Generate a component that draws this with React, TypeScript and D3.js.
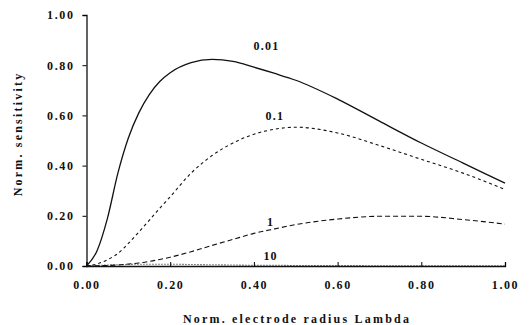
import React, { useEffect, useRef } from 'react'
import * as d3 from 'd3'

// shared x grid (normalised electrode radius)
const lambda = [0, 0.025, 0.05, 0.075, 0.1, 0.125, 0.15, 0.175, 0.2, 0.25, 0.3, 0.35, 0.4, 0.45, 0.5, 0.6, 0.7, 0.8, 0.9, 1.0]

const s001 = [0, 0.06, 0.19, 0.37, 0.51, 0.61, 0.683, 0.735, 0.77, 0.81, 0.823, 0.815, 0.792, 0.767, 0.74, 0.665, 0.577, 0.49, 0.41, 0.33]
const s01 = [0, 0.008, 0.025, 0.05, 0.09, 0.135, 0.182, 0.23, 0.276, 0.37, 0.44, 0.49, 0.525, 0.545, 0.553, 0.53, 0.48, 0.425, 0.37, 0.305]
const s1 = [0, 0.001, 0.002, 0.004, 0.008, 0.012, 0.018, 0.026, 0.035, 0.057, 0.082, 0.106, 0.13, 0.148, 0.165, 0.187, 0.198, 0.198, 0.185, 0.167]
const s10 = [0, 0.002, 0.004, 0.005, 0.006, 0.007, 0.007, 0.007, 0.007, 0.006, 0.005, 0.004, 0.003, 0.003, 0.002, 0.002, 0.001, 0.001, 0.001, 0.001]

const seriesNames = ['0.01', '0.1', '1', '10']
const seriesValues = [s001, s01, s1, s10]
const dashes = ['none', '3,3', '5,3', '1,2']
// where each curve label sits, in data units
const labelPos = [
  [0.43, 0.86],
  [0.45, 0.58],
  [0.44, 0.16],
  [0.44, 0.025],
]

const xTicks = [0, 0.2, 0.4, 0.6, 0.8, 1.0]
const yTicks = [0, 0.2, 0.4, 0.6, 0.8, 1.0]

const W = 529
const H = 325
const margin = { left: 86.5, right: 24, top: 15, bottom: 59 }
const FONT = '"Liberation Serif", "Times New Roman", serif'

const App = () => {
  const svgRef = useRef(null)

  useEffect(() => {
    const svg = d3.select(svgRef.current)
    svg.selectAll('*').remove()

    const x = d3.scaleLinear().domain([0, 1]).range([margin.left, W - margin.right])
    const y = d3.scaleLinear().domain([0, 1]).range([H - margin.bottom, margin.top])

    const g = svg.append('g')

    // y axis
    const yAxis = g
      .append('g')
      .attr('transform', `translate(${margin.left},0)`)
      .call(d3.axisLeft(y).tickValues(yTicks).tickFormat(d3.format('.2f')).tickSize(4).tickPadding(8))
    yAxis.select('.domain').attr('stroke', '#111').attr('stroke-width', 1.3)
    yAxis
      .selectAll('text')
      .attr('font-family', FONT)
      .attr('font-weight', 'bold')
      .attr('font-size', 12)
      .attr('letter-spacing', 1.6)
      .attr('fill', '#111')

    // x axis, ticks pointing inside
    const xAxis = g
      .append('g')
      .attr('transform', `translate(0,${H - margin.bottom})`)
      .call(d3.axisBottom(x).tickValues(xTicks).tickFormat(d3.format('.2f')).tickSize(-4).tickPadding(14))
    xAxis.select('.domain').attr('stroke', '#111').attr('stroke-width', 1.3)
    xAxis
      .selectAll('text')
      .attr('font-family', FONT)
      .attr('font-weight', 'bold')
      .attr('font-size', 12)
      .attr('letter-spacing', 1.6)
      .attr('fill', '#111')

    const line = d3
      .line<number>()
      .x((_, i) => x(lambda[i]))
      .y((d) => y(d))
      .curve(d3.curveMonotoneX)

    seriesValues.forEach((vals, k) => {
      g.append('path')
        .datum(vals)
        .attr('d', line)
        .attr('fill', 'none')
        .attr('stroke', '#111')
        .attr('stroke-width', k === 0 ? 1.3 : 1.1)
        .attr('stroke-dasharray', dashes[k])
    })

    seriesNames.forEach((name, k) => {
      g.append('text')
        .attr('x', x(labelPos[k][0]))
        .attr('y', y(labelPos[k][1]))
        .attr('text-anchor', 'middle')
        .attr('font-family', FONT)
        .attr('font-weight', 'bold')
        .attr('font-size', 12)
        .attr('letter-spacing', 1.2)
        .attr('fill', '#111')
        .text(name)
    })

    g.append('text')
      .attr('x', 297)
      .attr('y', 323)
      .attr('text-anchor', 'middle')
      .attr('font-family', FONT)
      .attr('font-weight', 'bold')
      .attr('font-size', 12)
      .attr('letter-spacing', 2.2)
      .attr('fill', '#111')
      .text('Norm. electrode radius Lambda')

    g.append('text')
      .attr('transform', `translate(22,134) rotate(-90)`)
      .attr('text-anchor', 'middle')
      .attr('font-family', FONT)
      .attr('font-weight', 'bold')
      .attr('font-size', 12)
      .attr('letter-spacing', 2.2)
      .attr('fill', '#111')
      .text('Norm. sensitivity')
  }, [])

  return (
    <svg
      ref={svgRef}
      width={W}
      height={H}
      style={{ position: 'absolute', left: 0, top: 0, background: '#fff' }}
    />
  )
}

export default App
